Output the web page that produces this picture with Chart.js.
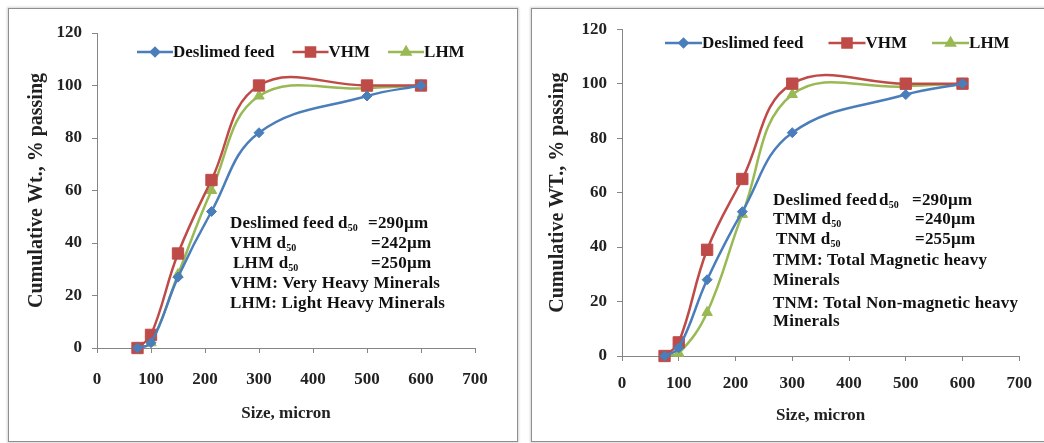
<!DOCTYPE html>
<html>
<head>
<meta charset="utf-8">
<script src="https://cdn.jsdelivr.net/npm/chart.js@4/dist/chart.umd.min.js"></script>
<style>
  html, body { margin: 0; padding: 0; background: #fff; }
  body { width: 1044px; height: 443px; position: relative; overflow: hidden; font-family: "Liberation Serif", serif; }
  .box { position: absolute; border: 1px solid #8f8f8f; box-shadow: 0 0 2px 1px #d6d6d6; background: #fff; }
  .box canvas { position: absolute; left: 0; top: 0; }
  .note { position: absolute; font: bold 17px "Liberation Serif", serif; letter-spacing: 0.2px; color: #111; line-height: 20px; white-space: pre; }
  .note sub { font-size: 10px; vertical-align: -3px; letter-spacing: 0; }
</style>
</head>
<body>
<div class="box" id="boxA" style="left:8px;top:8px;width:508px;height:432px;">
  <canvas id="chartA" width="508" height="432"></canvas>
</div>
<div class="box" id="boxB" style="left:531px;top:8px;width:520px;height:432px;">
  <canvas id="chartB" width="512" height="432"></canvas>
</div>

<!-- notes, page coords -->
<div class="note" style="left:230px;top:213px;">Deslimed feed</div>
<div class="note" style="left:338px;top:213px;">d<sub>50</sub></div>
<div class="note" style="left:368px;top:213px;">=290µm</div>
<div class="note" style="left:230px;top:233px;">VHM d<sub>50</sub></div>
<div class="note" style="left:371px;top:233px;">=242µm</div>
<div class="note" style="left:233px;top:253px;">LHM d<sub>50</sub></div>
<div class="note" style="left:371px;top:253px;">=250µm</div>
<div class="note" style="left:230px;top:273px;">VHM: Very Heavy Minerals</div>
<div class="note" style="left:230px;top:293px;">LHM: Light Heavy Minerals</div>

<div class="note" style="left:773px;top:190px;">Deslimed feed</div>
<div class="note" style="left:879px;top:190px;">d<sub>50</sub></div>
<div class="note" style="left:912px;top:190px;">=290µm</div>
<div class="note" style="left:773px;top:209px;">TMM d<sub>50</sub></div>
<div class="note" style="left:915px;top:209px;">=240µm</div>
<div class="note" style="left:776px;top:229px;">TNM d<sub>50</sub></div>
<div class="note" style="left:915px;top:229px;">=255µm</div>
<div class="note" style="left:773px;top:250px;">TMM: Total Magnetic heavy</div>
<div class="note" style="left:773px;top:270px;">Minerals</div>
<div class="note" style="left:773px;top:293px;">TNM: Total Non-magnetic heavy</div>
<div class="note" style="left:773px;top:311px;">Minerals</div>

<script>
// --- Data (sieve size in micron, cumulative wt % passing)
const sizes = [75, 100, 150, 212, 300, 500, 600];

const feedA = [0, 2, 27, 52, 82, 96, 100];
const vhmA  = [0, 5, 36, 64, 100, 100, 100];
const lhmA  = [0, 2, 28, 60, 96, 99, 100];

const feedB = [0, 3, 28, 53, 82, 96, 100];
const vhmB  = [0, 5, 39, 65, 100, 100, 100];
const lhmB  = [0, 1, 16, 52, 96, 99, 100];

const seriesNames = ["Deslimed feed", "VHM", "LHM"];
const xTicks = [0, 100, 200, 300, 400, 500, 600, 700];
const yTicks = [0, 20, 40, 60, 80, 100, 120];

// --- Styles
const COLORS = ["#4A7EBB", "#BE4B48", "#98B954"];
const POINT_STYLES = ["rectRot", "rect", "triangle"];
const POINT_RADIUS = [5, 8, 6];
const AXIS_GRAY = "#868686";
const FONT = "'Liberation Serif', 'Times New Roman', serif";

function toXY(ys){
  return ys.map((y, i) => ({ x: sizes[i], y }));
}

function makeDatasets(series){
  return series.map((ys, i) => ({
    label: seriesNames[i],
    data: toXY(ys),
    borderColor: COLORS[i],
    backgroundColor: COLORS[i],
    borderWidth: 2.5,
    pointStyle: POINT_STYLES[i],
    pointRadius: POINT_RADIUS[i],
    pointBorderWidth: 1,
    pointBackgroundColor: COLORS[i],
    pointBorderColor: COLORS[i],
    tension: 0.4,
    clip: false
  }));
}

// legend drawn inside the plot: line + marker + label
const inlineLegend = {
  id: "inlineLegend",
  afterDraw(chart, args, opts){
    const ctx = chart.ctx;
    let x = opts.x;
    const y = opts.y;
    ctx.save();
    ctx.font = `bold 17px ${FONT}`;
    ctx.textBaseline = "middle";
    chart.data.datasets.forEach((ds, i) => {
      ctx.strokeStyle = ds.borderColor;
      ctx.lineWidth = 2.5;
      ctx.beginPath();
      ctx.moveTo(x, y);
      ctx.lineTo(x + opts.lineLen, y);
      ctx.stroke();
      ctx.fillStyle = ds.borderColor;
      Chart.helpers.drawPoint(ctx, {
        pointStyle: ds.pointStyle,
        radius: ds.pointRadius * 0.8,
        borderWidth: 1
      }, x + opts.lineLen / 2, y);
      x += opts.lineLen;
      ctx.fillStyle = "#111";
      ctx.fillText(ds.label, x, y + 1);
      x += ctx.measureText(ds.label).width + opts.gap;
    });
    ctx.restore();
  }
};

function buildChart(canvasId, series, L){
  const tickFont = { family: FONT, size: 17, weight: "bold" };
  const xTitleFont = { family: FONT, size: 17, weight: "bold" };
  const yTitleFont = { family: FONT, size: 20, weight: "bold" };
  return new Chart(document.getElementById(canvasId), {
    type: "line",
    data: { datasets: makeDatasets(series) },
    plugins: [inlineLegend],
    options: {
      responsive: false,
      animation: false,
      layout: { padding: { left: 0, top: L.top, right: L.right, bottom: 0 } },
      plugins: {
        legend: { display: false },
        tooltip: { enabled: false },
        inlineLegend: L.legend
      },
      scales: {
        x: {
          type: "linear",
          min: 0, max: 700,
          afterFit: s => { s.height = L.xHeight; },
          afterBuildTicks: s => { s.ticks = xTicks.map(v => ({ value: v })); },
          grid: { drawOnChartArea: false, drawTicks: true, tickLength: 5, color: AXIS_GRAY },
          border: { color: AXIS_GRAY, width: 1 },
          ticks: { font: tickFont, color: "#222", padding: L.xTickPad, maxRotation: 0 },
          title: { display: true, text: "Size, micron", font: xTitleFont, color: "#222",
                   padding: { top: 0, bottom: L.xTitlePad } }
        },
        y: {
          min: 0, max: 120,
          afterFit: s => { s.width = L.yWidth; },
          afterBuildTicks: s => { s.ticks = yTicks.map(v => ({ value: v })); },
          grid: { drawOnChartArea: false, drawTicks: true, tickLength: 5, color: AXIS_GRAY },
          border: { color: AXIS_GRAY, width: 1 },
          ticks: { font: tickFont, color: "#222", padding: 10 },
          title: { display: true, text: L.yTitle, font: yTitleFont, color: "#222",
                   padding: { top: L.yTitlePad, bottom: 0 } }
        }
      }
    }
  });
}

buildChart("chartA", [feedA, vhmA, lhmA], {
  top: 24, right: 42, yWidth: 88, xHeight: 93,
  xTickPad: 16, xTitlePad: 17, yTitlePad: 16,
  yTitle: "Cumulative Wt., % passing",
  legend: { x: 128, y: 43, lineLen: 36, gap: 18 }
});

buildChart("chartB", [feedB, vhmB, lhmB], {
  top: 19, right: 22, yWidth: 90, xHeight: 85,
  xTickPad: 12, xTitlePad: 15, yTitlePad: 14,
  yTitle: "Cumulative WT., % passing",
  legend: { x: 133, y: 34, lineLen: 37, gap: 25 }
});
</script>
</body>
</html>
